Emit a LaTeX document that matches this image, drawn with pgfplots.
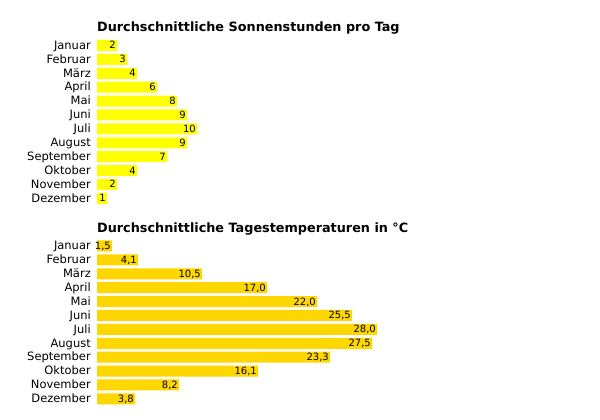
\documentclass[border=0pt]{standalone}
\usepackage{fontspec}
\setmainfont{DejaVu Sans}
\usepackage{pgfplots}
\pgfplotsset{compat=1.18}
\definecolor{sunyellow}{RGB}{255,255,0}
\definecolor{tempgold}{RGB}{255,215,0}
\pgfplotsset{monthbars/.style={
  xbar, scale only axis, width=300pt, height=166.8pt,
  xmin=0, xmax=30, ymin=-0.5, ymax=11.5, y dir=reverse,
  axis line style={draw=none}, major tick length=0pt,
  xtick=\empty, ytick={0,...,11},
  yticklabels={Januar,Februar,März,April,Mai,Juni,Juli,August,September,Oktober,November,Dezember},
  yticklabel style={font=\fontsize{11.5}{13}\selectfont, inner sep=0pt, anchor=base east, xshift=-6pt, yshift=-3.8pt},
  bar width=11pt,
  point meta=x,
  nodes near coords,
  nodes near coords style={anchor=base east, font=\fontsize{10}{12}\selectfont, inner sep=0pt, xshift=-1pt, yshift=-3.5pt, text=black},
  /pgf/number format/assume math mode=true,
  title style={at={(0,1)}, anchor=base west, font=\bfseries\fontsize{12.8}{15}\selectfont, inner sep=0pt, yshift=1pt},
  clip=false,
}}
\begin{document}
\begin{tikzpicture}
\useasboundingbox[fill=white] (0,0) rectangle (600pt,-420pt);
\begin{axis}[monthbars, at={(97pt,-38.5pt)}, anchor=north west,
  title={Durchschnittliche Sonnenstunden pro Tag}]
\addplot[fill=sunyellow, draw=none] coordinates {
(2,0) (3,1) (4,2) (6,3) (8,4) (9,5) (10,6) (9,7) (7,8) (4,9) (2,10) (1,11)};
\end{axis}
\begin{axis}[monthbars, at={(97pt,-239pt)}, anchor=north west,
  title={Durchschnittliche Tagestemperaturen in °C},
  /pgf/number format/.cd, fixed, fixed zerofill, precision=1, use comma, assume math mode=true]
\addplot[fill=tempgold, draw=none] coordinates {
(1.5,0) (4.1,1) (10.5,2) (17.0,3) (22.0,4) (25.5,5) (28.0,6) (27.5,7) (23.3,8) (16.1,9) (8.2,10) (3.8,11)};
\end{axis}
\end{tikzpicture}
\end{document}
